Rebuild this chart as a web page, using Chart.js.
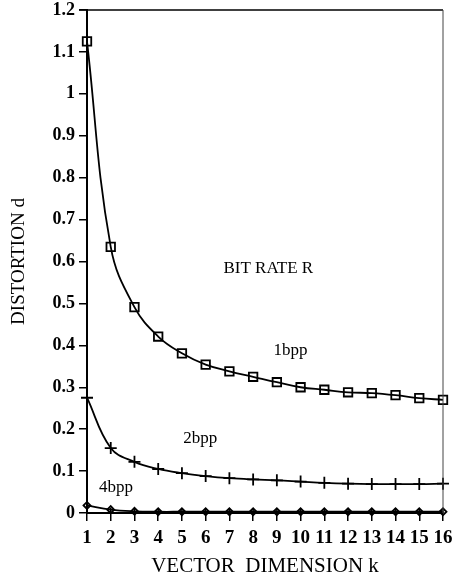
<!DOCTYPE html>
<html>
<head>
<meta charset="utf-8">
<script src="https://cdn.jsdelivr.net/npm/chart.js@4.4.1/dist/chart.umd.min.js"></script>
<style>
	html, body { margin: 0; padding: 0; background: #fff; }
	#wrap { width: 453px; height: 579px; }
</style>
</head>
<body>
<div id="wrap"><canvas id="myChart"></canvas></div>
<script>
// values
const dimensions = [1, 2, 3, 4, 5, 6, 7, 8, 9, 10, 11, 12, 13, 14, 15, 16];
const rate1bpp = [1.125, 0.635, 0.491, 0.421, 0.381, 0.354, 0.338, 0.325, 0.312, 0.300, 0.294, 0.288, 0.286, 0.281, 0.274, 0.270];
const rate2bpp = [0.275, 0.155, 0.122, 0.105, 0.095, 0.088, 0.083, 0.080, 0.078, 0.075, 0.072, 0.070, 0.069, 0.069, 0.069, 0.070];
const rate4bpp = [0.018, 0.008, 0.004, 0.003, 0.003, 0.003, 0.003, 0.003, 0.003, 0.003, 0.003, 0.003, 0.003, 0.003, 0.003, 0.003];
const yTicks = [0, 0.1, 0.2, 0.3, 0.4, 0.5, 0.6, 0.7, 0.8, 0.9, 1, 1.1, 1.2];

// text labels inside the plot, in data units
const notes = [
	{ text: 'BIT RATE R', x: 8.64, y: 0.584 },
	{ text: '1bpp', x: 9.57, y: 0.388 },
	{ text: '2bpp', x: 5.77, y: 0.177 },
	{ text: '4bpp', x: 2.22, y: 0.06 }
];

function toPoints(values) {
	return values.map((v, i) => ({ x: dimensions[i], y: v }));
}

const serif = "'Liberation Serif', 'DejaVu Serif', serif";

// frame on top and right, tick stubs above the x axis, and the notes
const framePlugin = {
	id: 'frame',
	afterDraw(chart) {
		const ctx = chart.ctx;
		const a = chart.chartArea;
		const xs = chart.scales.x;
		ctx.save();
		ctx.strokeStyle = '#000';
		ctx.lineWidth = 1.5;
		ctx.beginPath();
		ctx.moveTo(a.left - 8, a.top);
		ctx.lineTo(a.right, a.top);
		ctx.stroke();

		ctx.beginPath();
		xs.ticks.forEach(t => {
			const px = xs.getPixelForValue(t.value);
			ctx.moveTo(px, a.bottom);
			ctx.lineTo(px, a.bottom - 5);
		});
		ctx.stroke();

		ctx.lineWidth = 1;
		ctx.strokeStyle = '#444';
		ctx.beginPath();
		ctx.moveTo(a.right, a.top);
		ctx.lineTo(a.right, a.bottom);
		ctx.stroke();

		ctx.fillStyle = '#000';
		ctx.font = '17px ' + serif;
		ctx.textAlign = 'center';
		ctx.textBaseline = 'middle';
		notes.forEach(n => {
			ctx.fillText(n.text, xs.getPixelForValue(n.x), chart.scales.y.getPixelForValue(n.y));
		});
		ctx.restore();
	}
};

const lineStyle = {
	borderColor: '#000',
	backgroundColor: 'transparent',
	pointBorderColor: '#000',
	pointBackgroundColor: 'transparent',
	borderWidth: 1.8,
	pointBorderWidth: 1.8,
	tension: 0.4,
	clip: false,
	fill: false
};

const config = {
	type: 'line',
	data: {
		datasets: [
			Object.assign({ label: '1bpp', data: toPoints(rate1bpp), pointStyle: 'rect', pointRadius: 6 }, lineStyle),
			Object.assign({ label: '2bpp', data: toPoints(rate2bpp), pointStyle: 'cross', pointRadius: 6 }, lineStyle),
			Object.assign({ label: '4bpp', data: toPoints(rate4bpp), pointStyle: 'rectRot', pointRadius: 3.5 }, lineStyle)
		]
	},
	options: {
		responsive: true,
		maintainAspectRatio: false,
		animation: false,
		layout: { padding: { left: 0, right: 10, top: 10, bottom: 0 } },
		plugins: {
			legend: { display: false },
			tooltip: { enabled: false }
		},
		scales: {
			x: {
				type: 'linear',
				min: 1,
				max: 16,
				afterFit(scale) { scale.height = 66; scale.paddingLeft = 0; scale.paddingRight = 0; },
				ticks: {
					stepSize: 1,
					autoSkip: false,
					maxRotation: 0,
					minRotation: 0,
					color: '#000',
					padding: 6,
					font: { family: serif, size: 19, weight: 'bold' }
				},
				grid: { drawOnChartArea: false, tickLength: 8, color: '#000', lineWidth: 1.5 },
				border: { display: true, color: '#000', width: 2 },
				title: {
					display: true,
					text: 'VECTOR  DIMENSION k',
					color: '#000',
					padding: { top: 0, bottom: 0 },
					font: { family: serif, size: 21 }
				}
			},
			y: {
				min: 0,
				max: 1.2,
				afterFit(scale) { scale.width = 87; scale.paddingTop = 0; scale.paddingBottom = 0; },
				afterBuildTicks(scale) { scale.ticks = yTicks.map(v => ({ value: v })); },
				ticks: {
					color: '#000',
					padding: 4,
					font: { family: serif, size: 18, weight: 'bold' },
					callback: v => String(Math.round(v * 10) / 10)
				},
				grid: { drawOnChartArea: false, tickLength: 8, color: '#000', lineWidth: 1.5 },
				border: { display: true, color: '#000', width: 2 },
				title: {
					display: true,
					text: 'DISTORTION d',
					color: '#000',
					padding: { top: 8, bottom: 0 },
					font: { family: serif, size: 19 }
				}
			}
		}
	},
	plugins: [framePlugin]
};

var myChart = new Chart(document.getElementById('myChart'), config);
</script>
</body>
</html>
